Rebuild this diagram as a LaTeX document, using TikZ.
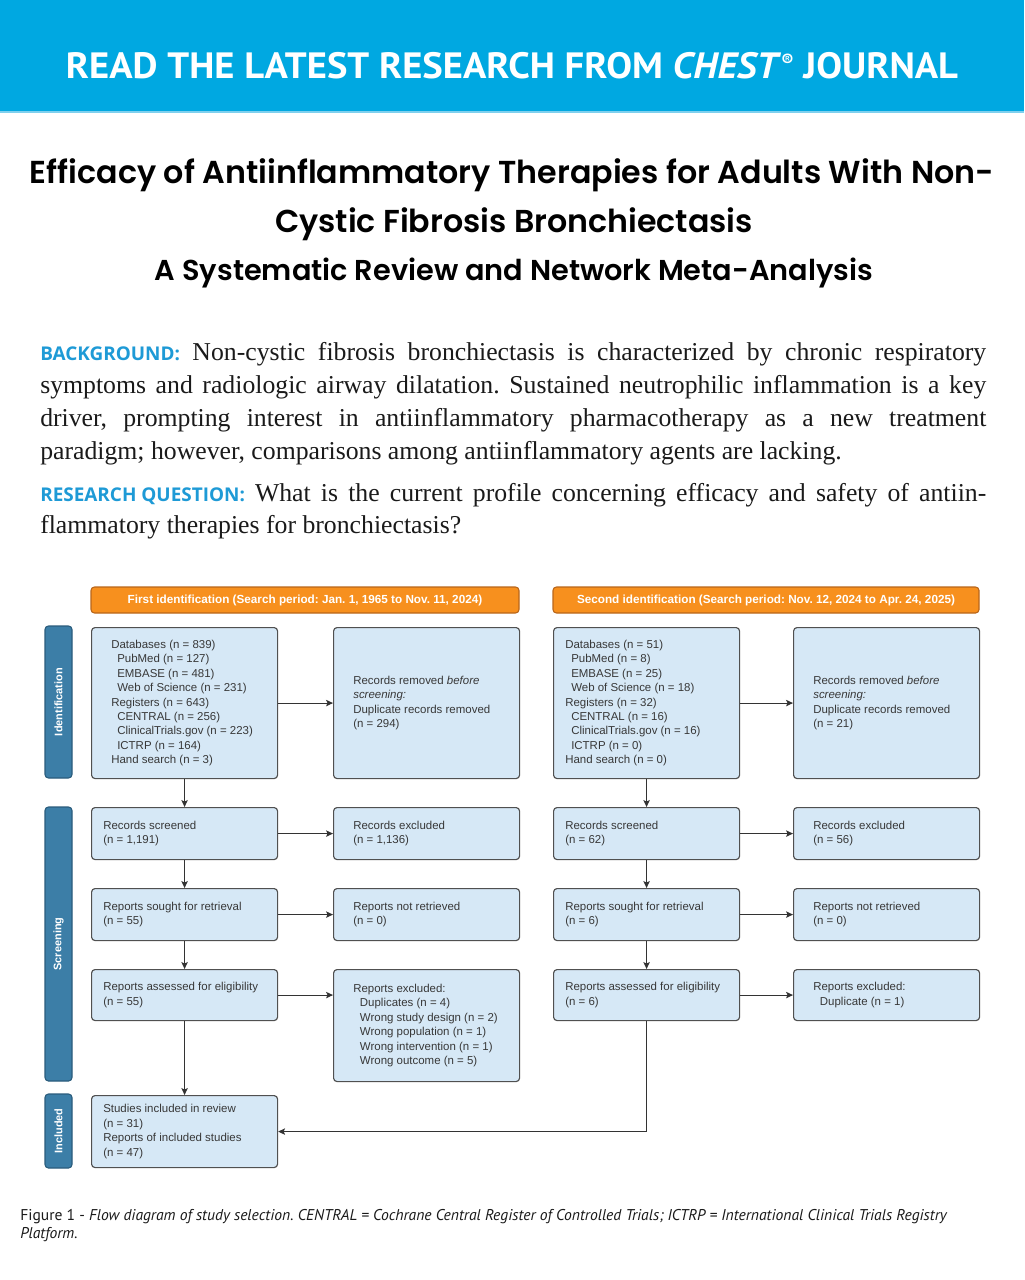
\documentclass[tikz,border=0pt]{standalone}
\usepackage{fontspec}
\usepackage{graphicx}
\usetikzlibrary{arrows.meta,calc}
\setmainfont{Liberation Serif}
\newfontfamily\hdfont{PT Sans}
\newfontfamily\titlefont{Poppins}[BoldFont={Poppins SemiBold}]
\newfontfamily\arialfont{Liberation Sans}
\newfontfamily\labfont{Open Sans}
\newfontfamily\capfont{PT Sans}
\frenchspacing
\definecolor{chestblue}{HTML}{00A8E1}
\definecolor{chestline}{HTML}{7FD0EE}
\definecolor{labelblue}{HTML}{1E9AD6}
\definecolor{orangeF}{HTML}{F7901E}
\definecolor{orangeD}{HTML}{B9661A}
\definecolor{phasec}{HTML}{3C7EA7}
\definecolor{phaseD}{HTML}{2A5C7C}
\definecolor{boxfill}{HTML}{D6E8F6}
\definecolor{boxline}{HTML}{505050}
\definecolor{boxtext}{HTML}{383838}
\definecolor{arrowc}{HTML}{333333}
\definecolor{bodytext}{HTML}{1A1A1A}
\tikzset{
  pbox/.style={draw=boxline, fill=boxfill, line width=0.85pt, rounded corners=2.6pt, inner sep=0pt, anchor=north west},
  btxt/.style={font=\arialfont\fontsize{8.6}{10.8}\selectfont, text=boxtext, align=left, inner sep=0pt, anchor=west},
  ohdr/.style={draw=orangeD, fill=orangeF, line width=0.8pt, rounded corners=2.6pt, inner sep=0pt, text=white, font=\arialfont\bfseries\fontsize{8.8}{10}\selectfont},
  phase/.style={draw=phaseD, fill=phasec, line width=0.8pt, rounded corners=2.6pt, inner sep=0pt, rotate=90, text=white, font=\arialfont\bfseries\fontsize{8.2}{9}\selectfont},
  conn/.style={draw=arrowc, line width=0.8pt, -{Stealth[length=5.2pt,width=4.8pt,inset=1.1pt]}},
  bodyl/.style={anchor=base west, inner sep=0pt, text=bodytext, font=\fontsize{19.3}{22}\selectfont},
}
\newcommand\lab[1]{\mbox{\labfont\bfseries\fontsize{14.2}{15}\selectfont\color{labelblue}#1}}
\begin{document}
\begin{tikzpicture}[x=0.75pt,y=-0.75pt]
\useasboundingbox (0,0) rectangle (1024,1280);
\fill[white] (0,0) rectangle (1024,1280);
% header
\fill[chestblue] (0,0) rectangle (1024,112);
\draw[chestline, line width=1.1pt] (0,112) -- (1024,112);
\node[anchor=base, inner sep=0pt, text=white] (hdr) at (512,79) {\resizebox{669pt}{19.6pt}{\hdfont\bfseries\fontsize{28}{30}\selectfont READ THE LATEST RESEARCH FROM \textit{CHEST}\raisebox{0.33em}{\fontsize{13}{13}\selectfont ®} JOURNAL}};
% title
\node[anchor=base, inner sep=0pt] (t1) at (512,184) {\resizebox{723pt}{!}{\titlefont\bfseries\fontsize{24}{28}\selectfont Efficacy of Antiinflammatory Therapies for Adults With Non-}};
\node[anchor=base, inner sep=0pt] (t2) at (514,233) {\resizebox{358.5pt}{!}{\titlefont\bfseries\fontsize{24}{28}\selectfont Cystic Fibrosis Bronchiectasis}};
\node[anchor=base, inner sep=0pt] (t3) at (514,280) {\resizebox{538.5pt}{!}{\titlefont\bfseries\fontsize{24}{28}\selectfont A Systematic Review and Network Meta-Analysis}};
% background
\node[bodyl] (b1) at (40,360) {\makebox[709.5pt][s]{\lab{BACKGROUND:} Non-cystic fibrosis bronchiectasis is characterized by chronic respiratory}};
\node[bodyl] (b2) at (40,393) {\makebox[709.5pt][s]{symptoms and radiologic airway dilatation. Sustained neutrophilic inflammation is a key}};
\node[bodyl] (b3) at (40,426) {\makebox[709.5pt][s]{driver, prompting interest in antiinflammatory pharmacotherapy as a new treatment}};
\node[bodyl] (b4) at (40,459) {paradigm; however, comparisons among antiinflammatory agents are lacking.};
\node[bodyl] (r1) at (40,501) {\makebox[709.5pt][s]{\lab{RESEARCH QUESTION:} What is the current profile concerning efficacy and safety of antiin-}};
\node[bodyl] (r2) at (40,533) {flammatory therapies for bronchiectasis?};
% orange headers
\node[ohdr, minimum width=321pt, minimum height=19.5pt] (oh1) at (305,600) {First identification (Search period: Jan. 1, 1965 to Nov. 11, 2024)};
\node[ohdr, minimum width=319.5pt, minimum height=19.5pt] (oh2) at (766,600) {Second identification (Search period: Nov. 12, 2024 to Apr. 24, 2025)};
% phase labels
\node[phase, minimum width=114pt, minimum height=20.25pt] (ph1) at (58.5,702) {Identification};
\node[phase, minimum width=205.5pt, minimum height=20.25pt] (ph2) at (58.5,944) {Screening};
\node[phase, minimum width=55.5pt, minimum height=20.25pt] (ph3) at (58.5,1131) {Included};
% left column boxes
\node[pbox, minimum width=139.5pt, minimum height=113.25pt] (db1) at (91,627) {};
\node[pbox, minimum width=139.5pt, minimum height=113.25pt] (rem1) at (333,627) {};
\node[pbox, minimum width=139.5pt, minimum height=39pt] (scr1) at (91,807) {};
\node[pbox, minimum width=139.5pt, minimum height=39pt] (exc1) at (333,807) {};
\node[pbox, minimum width=139.5pt, minimum height=39pt] (sou1) at (91,888) {};
\node[pbox, minimum width=139.5pt, minimum height=39pt] (nr1) at (333,888) {};
\node[pbox, minimum width=139.5pt, minimum height=38.25pt] (ass1) at (91,969) {};
\node[pbox, minimum width=139.5pt, minimum height=84pt] (ex1) at (333,969) {};
\node[pbox, minimum width=139.5pt, minimum height=54pt] (inc) at (91,1095) {};
% right column boxes
\node[pbox, minimum width=139.5pt, minimum height=113.25pt] (db2) at (553,627) {};
\node[pbox, minimum width=139.5pt, minimum height=113.25pt] (rem2) at (793,627) {};
\node[pbox, minimum width=139.5pt, minimum height=39pt] (scr2) at (553,807) {};
\node[pbox, minimum width=139.5pt, minimum height=39pt] (exc2) at (793,807) {};
\node[pbox, minimum width=139.5pt, minimum height=39pt] (sou2) at (553,888) {};
\node[pbox, minimum width=139.5pt, minimum height=39pt] (nr2) at (793,888) {};
\node[pbox, minimum width=139.5pt, minimum height=38.25pt] (ass2) at (553,969) {};
\node[pbox, minimum width=139.5pt, minimum height=38.25pt] (ex2) at (793,969) {};
% left texts
\node[btxt] (db1t) at ([xshift=15pt]db1.west) {Databases (n = 839)\\\hspace*{4.5pt}PubMed (n = 127)\\\hspace*{4.5pt}EMBASE (n = 481)\\\hspace*{4.5pt}Web of Science (n = 231)\\Registers (n = 643)\\\hspace*{4.5pt}CENTRAL (n = 256)\\\hspace*{4.5pt}ClinicalTrials.gov (n = 223)\\\hspace*{4.5pt}ICTRP (n = 164)\\Hand search (n = 3)};
\node[btxt] (rem1t) at ([xshift=15pt]rem1.west) {Records removed \textit{before}\\\textit{screening:}\\Duplicate records removed\\(n = 294)};
\node[btxt] (scr1t) at ([xshift=9pt]scr1.west) {Records screened\\(n = 1,191)};
\node[btxt] (exc1t) at ([xshift=15pt]exc1.west) {Records excluded\\(n = 1,136)};
\node[btxt] (sou1t) at ([xshift=9pt]sou1.west) {Reports sought for retrieval\\(n = 55)};
\node[btxt] (nr1t) at ([xshift=15pt]nr1.west) {Reports not retrieved\\(n = 0)};
\node[btxt] (ass1t) at ([xshift=9pt]ass1.west) {Reports assessed for eligibility\\(n = 55)};
\node[btxt] (ex1t) at ([xshift=15pt]ex1.west) {Reports excluded:\\\hspace*{5pt}Duplicates (n = 4)\\\hspace*{5pt}Wrong study design (n = 2)\\\hspace*{5pt}Wrong population (n = 1)\\\hspace*{5pt}Wrong intervention (n = 1)\\\hspace*{5pt}Wrong outcome (n = 5)};
\node[btxt] (inct) at ([xshift=9pt]inc.west) {Studies included in review\\(n = 31)\\Reports of included studies\\(n = 47)};
% right texts
\node[btxt] (db2t) at ([xshift=9pt]db2.west) {Databases (n = 51)\\\hspace*{4.5pt}PubMed (n = 8)\\\hspace*{4.5pt}EMBASE (n = 25)\\\hspace*{4.5pt}Web of Science (n = 18)\\Registers (n = 32)\\\hspace*{4.5pt}CENTRAL (n = 16)\\\hspace*{4.5pt}ClinicalTrials.gov (n = 16)\\\hspace*{4.5pt}ICTRP (n = 0)\\Hand search (n = 0)};
\node[btxt] (rem2t) at ([xshift=15pt]rem2.west) {Records removed \textit{before}\\\textit{screening:}\\Duplicate records removed\\(n = 21)};
\node[btxt] (scr2t) at ([xshift=9pt]scr2.west) {Records screened\\(n = 62)};
\node[btxt] (exc2t) at ([xshift=15pt]exc2.west) {Records excluded\\(n = 56)};
\node[btxt] (sou2t) at ([xshift=9pt]sou2.west) {Reports sought for retrieval\\(n = 6)};
\node[btxt] (nr2t) at ([xshift=15pt]nr2.west) {Reports not retrieved\\(n = 0)};
\node[btxt] (ass2t) at ([xshift=9pt]ass2.west) {Reports assessed for eligibility\\(n = 6)};
\node[btxt] (ex2t) at ([xshift=15pt]ex2.west) {Reports excluded:\\\hspace*{5pt}Duplicate (n = 1)};
% connectors left
\draw[conn] (db1.south) -- (scr1.north);
\draw[conn] (db1.east) -- (rem1.west);
\draw[conn] (scr1.east) -- (exc1.west);
\draw[conn] (scr1.south) -- (sou1.north);
\draw[conn] (sou1.east) -- (nr1.west);
\draw[conn] (sou1.south) -- (ass1.north);
\draw[conn] (ass1.east) -- (ass1.east -| ex1.west);
\draw[conn] (ass1.south) -- (inc.north);
% connectors right
\draw[conn] (db2.south) -- (scr2.north);
\draw[conn] (db2.east) -- (rem2.west);
\draw[conn] (scr2.east) -- (exc2.west);
\draw[conn] (scr2.south) -- (sou2.north);
\draw[conn] (sou2.east) -- (nr2.west);
\draw[conn] (sou2.south) -- (ass2.north);
\draw[conn] (ass2.east) -- (ex2.west);
\draw[conn] (ass2.south) |- (inc.east);
% caption
\node[anchor=base west, inner sep=0pt, align=left, text=bodytext, font=\capfont\fontsize{11.7}{13.1}\selectfont] (cap) at (20,1238) {Figure 1 - \textit{Flow diagram of study selection. CENTRAL = Cochrane Central Register of Controlled Trials; ICTRP = International Clinical Trials Registry}\\\textit{Platform.}};
\end{tikzpicture}
\end{document}
